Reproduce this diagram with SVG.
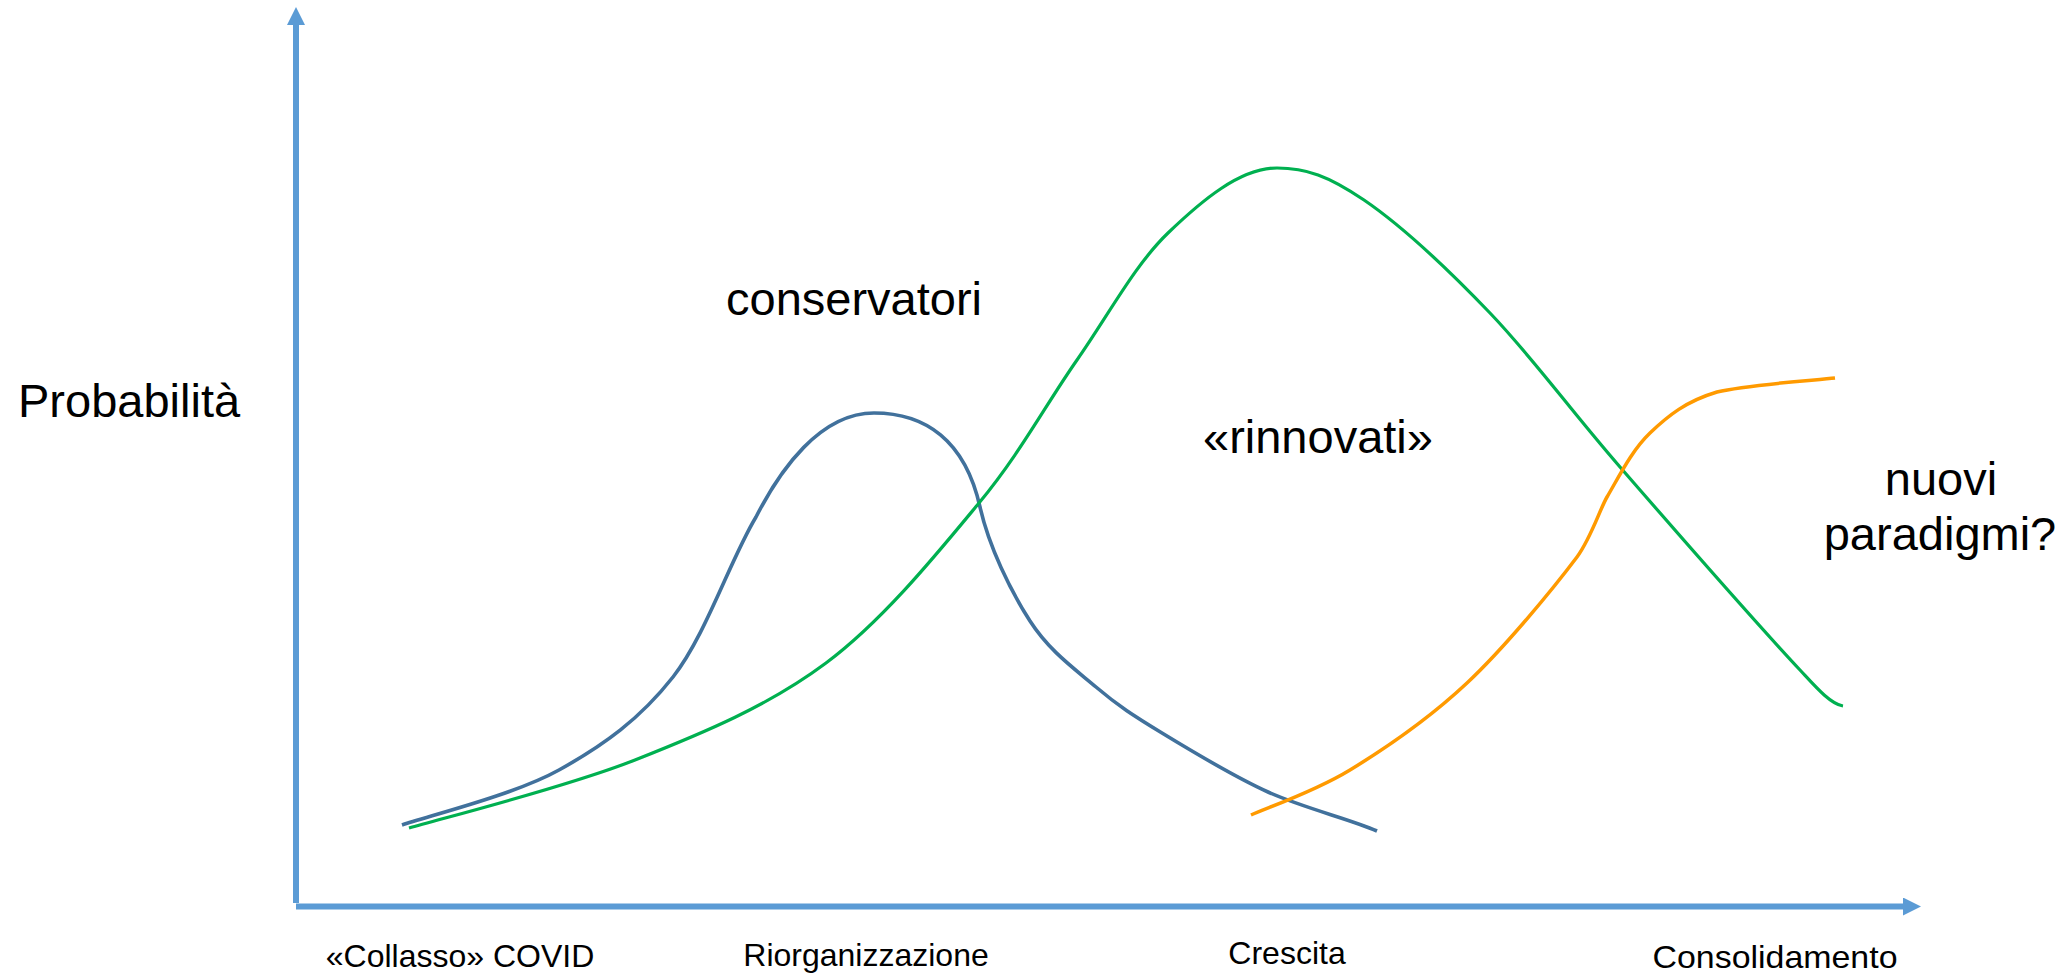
<svg xmlns="http://www.w3.org/2000/svg" width="2071" height="976" viewBox="0 0 2071 976">
<style>
.axis{stroke:#5B9BD5;stroke-width:6;fill:none}
.curve{fill:none;stroke-linecap:butt;stroke-linejoin:round}
.big{font-family:"Liberation Sans",Arial,sans-serif;font-size:47px;fill:#000}
.small{font-family:"Liberation Sans",Arial,sans-serif;font-size:32px;fill:#000;text-anchor:middle}
</style>
<defs>
<marker id="arrow" markerUnits="userSpaceOnUse" markerWidth="18" markerHeight="18" refX="8" refY="9" orient="auto">
<path d="M0,0 L18,9 L0,18 z" fill="#5B9BD5"/>
</marker>
</defs>
<rect width="2071" height="976" fill="#fff"/>
<g id="connectors">
<line id="y-axis" class="axis" x1="296" y1="903" x2="296" y2="17" marker-end="url(#arrow)"/>
<line id="x-axis" class="axis" x1="296" y1="906.5" x2="1911" y2="906.5" marker-end="url(#arrow)"/>
<path id="curve-conservatori" class="curve" stroke="#41719C" stroke-width="3.6" d="M402,825 C428,816 514,795 559,770 C604,745 640,719 673,677 C706,635 730,560 756,517 C780,470 820,413 874,413 C925,413 965,440 980,507 C989,547 1010.7,591 1030,621 C1049.3,651 1074,668.3 1096,687 C1118,705.7 1133.3,715.5 1162,733 C1190.7,750.5 1232.2,775.8 1268,792 C1303.8,808.2 1350,819 1377,831"/>
<path id="curve-rinnovati" class="curve" stroke="#00B050" stroke-width="3.2" d="M409,828 C447,817 565.5,787.5 635,760 C704.5,732.5 768.7,705.8 826,663 C883.3,620.2 937.2,553.5 979,503 C1020.8,452.5 1045.5,405 1077,360 C1108.5,315 1134.7,265 1168,233 C1201.3,201 1240,168 1277,168 C1306,168 1328.5,175.8 1364,200 C1399.5,224.2 1447.3,268.5 1490,313 C1532.7,357.5 1568.3,407.5 1620,467 C1671.7,526.5 1762.8,630.2 1800,670 C1814,685 1830,704 1843,706"/>
<path id="curve-nuovi" class="curve" stroke="#FF9A00" stroke-width="3.5" d="M1251,815 C1267.5,807.5 1314,792 1350,770 C1386,748 1429.2,718.5 1467,683 C1504.8,647.5 1553.7,588 1577,557 C1591,538 1600,509 1607,497 C1619.2,476.3 1631.7,450.5 1650,433 C1668.3,415.5 1686.2,401.2 1717,392 C1747.8,384.5 1815.3,380.3 1835,378"/>
</g>
<g id="label-probabilita"><text class="big" x="18" y="417">Probabilità</text></g>
<g id="label-conservatori"><text class="big" x="726" y="315">conservatori</text></g>
<g id="label-rinnovati"><text class="big" x="1203" y="453">«rinnovati»</text></g>
<g id="label-nuovi"><text class="big" text-anchor="middle" x="1941" y="495">nuovi</text><text class="big" text-anchor="middle" x="1940" y="550">paradigmi?</text></g>
<g id="label-collasso"><text class="small" x="460" y="967">«Collasso» COVID</text></g>
<g id="label-riorganizzazione"><text class="small" x="866" y="966">Riorganizzazione</text></g>
<g id="label-crescita"><text class="small" x="1287" y="964">Crescita</text></g>
<g id="label-consolidamento"><text class="small" x="1775" y="968" textLength="245" lengthAdjust="spacingAndGlyphs">Consolidamento</text></g>
</svg>
